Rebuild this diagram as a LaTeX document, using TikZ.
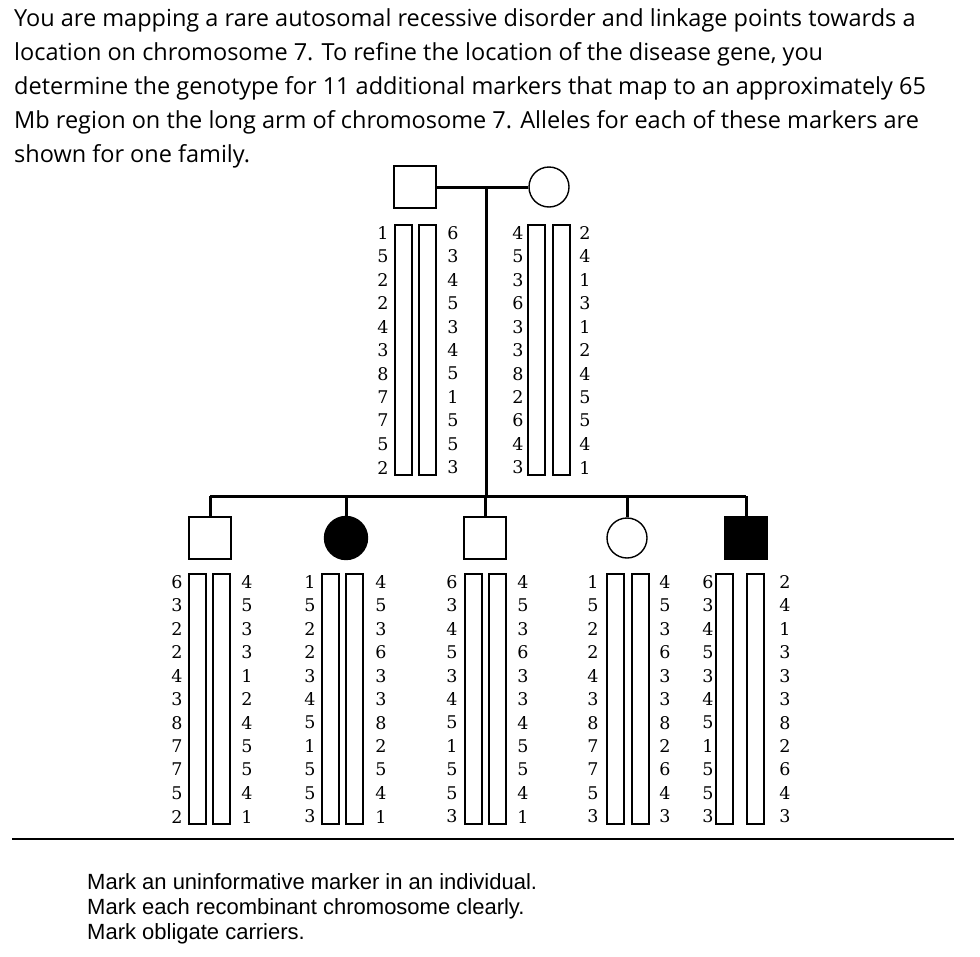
\documentclass[tikz,border=0pt]{standalone}
\usepackage{fontspec}
\setmainfont{DejaVu Serif}
\newfontfamily\questfont{Open Sans}
\newfontfamily\taskfont{Liberation Sans}
\usetikzlibrary{calc}

\begin{document}
\begin{tikzpicture}[x=1pt, y=-1pt,
  every node/.style={inner sep=0pt},
  allele/.style={font=\fontsize{17.5}{17.5}\selectfont},
  bar/.style={line width=1.4pt},
  lineage/.style={line width=3pt},
  male/.style={draw, line width=1.4pt, rectangle, minimum size=42pt},
  female/.style={draw, line width=1.4pt, circle, minimum size=40pt},
  affected/.style={fill=black}]
\useasboundingbox (0,0) rectangle (980,956);

% Chromosome pair: name, left bar x, right bar x, left label x, right label x, top y, alleles
\def\chrompair#1#2#3#4#5#6#7#8{%
  \draw[bar] (#2,#6) rectangle ++(17,250);
  \draw[bar] (#3,#6) rectangle ++(17,250);
  \foreach \a [count=\i] in {#7}
    \node[allele] (#1-l\i) at (#4,{#6+8+23.45*(\i-1)}) {\a};
  \foreach \a [count=\i] in {#8}
    \node[allele] (#1-r\i) at (#5,{#6+8+23.45*(\i-1)}) {\a};
}

% Question text
\node[anchor=north west, align=left, font=\questfont\fontsize{23.5}{34}\selectfont]
  (question) at (14,8) {You are mapping a rare autosomal recessive disorder and linkage points towards a\\
  location on chromosome 7. To refine the location of the disease gene, you\\
  determine the genotype for 11 additional markers that map to an approximately 65\\
  Mb region on the long arm of chromosome 7. Alleles for each of these markers are\\
  shown for one family.};

% Parents
\node[male] (father) at (415,187) {};
\node[female] (mother) at (549,187) {};
\coordinate (mate) at (486,187);
\draw[lineage] (father.east) -- (mother.west);

% Children
\node[male] (c1) at (210,538) {};
\node[female, affected, minimum size=43pt] (c2) at (346,538) {};
\node[male] (c3) at (485,538) {};
\node[female] (c4) at (627,538) {};
\node[male, affected] (c5) at (746,538) {};

% Sibship line and drops
\coordinate (sib) at (486,496);
\draw[lineage] (mate) -- (sib);
\draw[lineage] (sib -| c1) -- (sib -| c5);
\foreach \c in {c1,c2,c3,c4,c5}
  \draw[lineage] (sib -| \c) -- (\c.north);

% Parent haplotypes
\chrompair{father}{395}{419}{383}{453}{225}{1,5,2,2,4,3,8,7,7,5,2}{6,3,4,5,3,4,5,1,5,5,3}
\chrompair{mother}{528}{553}{518}{585}{225}{4,5,3,6,3,3,8,2,6,4,3}{2,4,1,3,1,2,4,5,5,4,1}

% Children haplotypes
\chrompair{kid1}{189}{213}{177}{247}{574}{6,3,2,2,4,3,8,7,7,5,2}{4,5,3,3,1,2,4,5,5,4,1}
\chrompair{kid2}{322}{346}{310}{381}{574}{1,5,2,2,3,4,5,1,5,5,3}{4,5,3,6,3,3,8,2,5,4,1}
\chrompair{kid3}{465}{489}{452}{523}{574}{6,3,4,5,3,4,5,1,5,5,3}{4,5,3,6,3,3,4,5,5,4,1}
\chrompair{kid4}{607}{632}{593}{665}{574}{1,5,2,2,4,3,8,7,7,5,3}{4,5,3,6,3,3,8,2,6,4,3}
\chrompair{kid5}{716}{747}{708}{785}{574}{6,3,4,5,3,4,5,1,5,5,3}{2,4,1,3,3,3,8,2,6,4,3}

% Separator
\coordinate (rule-l) at (12,839);
\coordinate (rule-r) at (954,839);
\draw[line width=2pt] (rule-l) -- (rule-r);

% Tasks
\node[anchor=north west, align=left, font=\taskfont\fontsize{22}{25}\selectfont]
  (tasks) at (87,873) {Mark an uninformative marker in an individual.\\
  Mark each recombinant chromosome clearly.\\
  Mark obligate carriers.};
\end{tikzpicture}
\end{document}
